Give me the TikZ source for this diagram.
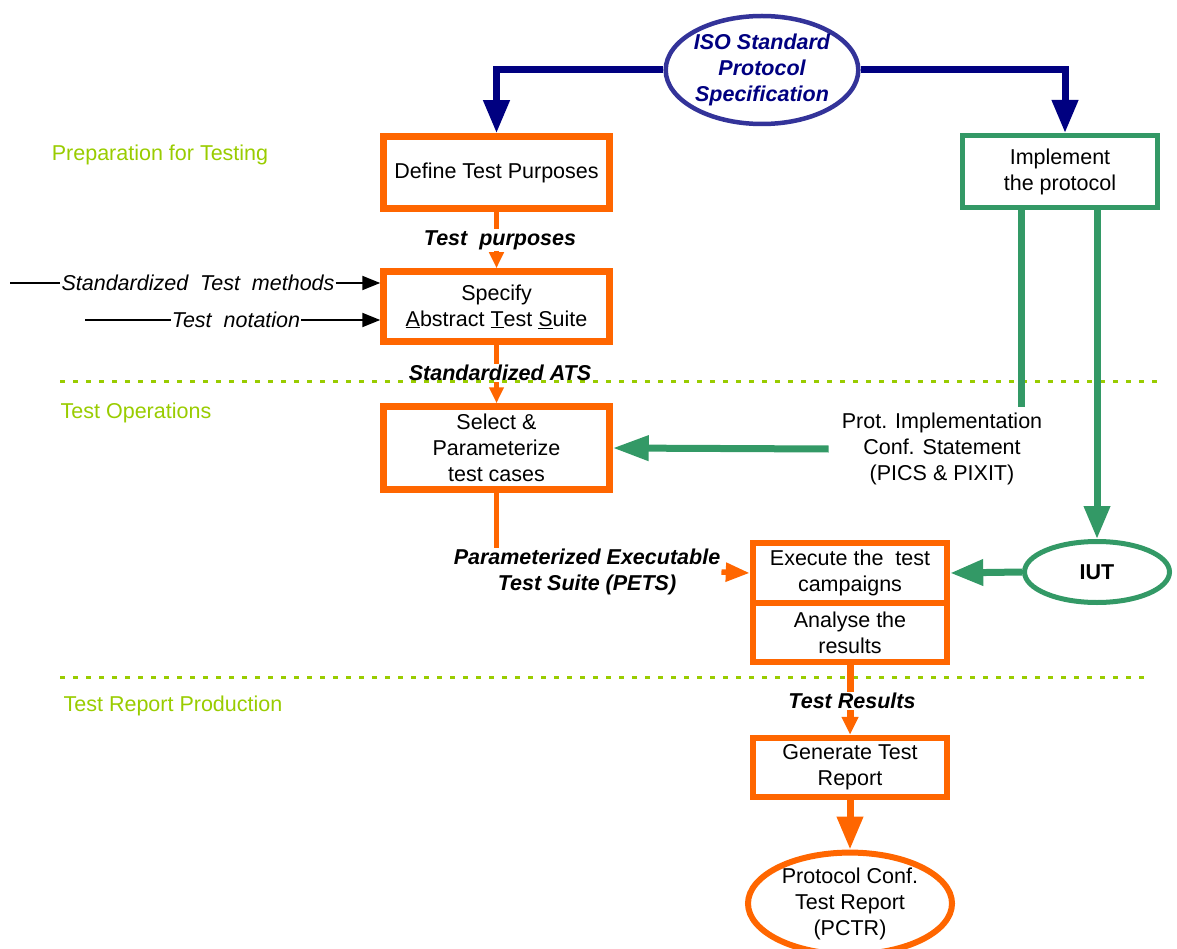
\documentclass[tikz,border=0pt]{standalone}
\usepackage{fontspec}
\setmainfont{Liberation Sans}
\usetikzlibrary{arrows.meta,shapes.geometric,calc}
\definecolor{orng}{HTML}{FF6600}
\definecolor{grn}{HTML}{339966}
\definecolor{navy}{HTML}{000080}
\definecolor{isoblue}{HTML}{333399}
\definecolor{lime}{HTML}{99CC00}
\begin{document}
\begin{tikzpicture}[x=1pt,y=-1pt,
  every node/.style={font=\fontsize{21.5}{26}\selectfont, align=center, inner sep=1pt},
  obox/.style={draw=orng, line width=6.5pt, inner sep=0pt},
  gbox/.style={draw=grn, line width=5pt, inner sep=0pt},
  lbl/.style={font=\fontsize{21.5}{26}\selectfont\bfseries\itshape},
  sect/.style={text=lime},
  sepline/.style={lime, line width=3pt, dash pattern=on 5pt off 8pt},
  oline/.style={orng, line width=5.5pt},
  othick/.style={orng, line width=7pt},
  gline/.style={grn, line width=7pt},
  bline/.style={navy, line width=7pt},
  smalltip/.style={-{Triangle[length=16pt,width=14pt]}},
  bigtip/.style={-{Triangle[length=33pt,width=25pt]}},
  ktip/.style={black, line width=2pt, -{Triangle[length=18pt,width=14pt]}}]
\useasboundingbox (0,0) rectangle (1177,949);

% phase separators
\draw[sepline] (60,381) -- (1160,381);
\draw[sepline] (60,677) -- (1145,677);

% phase titles
\node[sect] (s1) at (160,155) {Preparation for Testing};
\node[sect] (s2) at (136,413) {Test Operations};
\node[sect] (s3) at (173,706) {Test Report Production};

% specification
\node[ellipse, draw=isoblue, line width=4.5pt, minimum width=186pt, minimum height=108pt,
      inner sep=0pt, text=navy, font=\fontsize{21.5}{26}\selectfont\bfseries\itshape]
      (iso) at (762,70) {ISO Standard\\Protocol\\Specification};

% process boxes
\node[obox, minimum width=226pt, minimum height=72pt] (def) at (496.5,172.5) {Define Test Purposes};
\node[obox, minimum width=226pt, minimum height=70pt] (spec) at (496.5,306.5)
      {Specify\\\underline{A}bstract \underline{T}est \underline{S}uite};
\node[obox, minimum width=226pt, minimum height=83pt] (sel) at (496.5,448)
      {Select \&\\Parameterize\\test cases};
\node[gbox, minimum width=195pt, minimum height=72pt] (impl) at (1060,171.5) {Implement\\the protocol};
\node[obox, minimum width=194pt, minimum height=60pt] (exec) at (850,573) {Execute the\ \ test\\campaigns};
\node[obox, minimum width=194pt, minimum height=59pt] (anal) at (850,632.5) {Analyse the\\results};
\node[obox, minimum width=194pt, minimum height=59pt] (gen) at (850,767.5) {Generate Test\\Report};

% outcomes
\node[ellipse, draw=grn, line width=5pt, minimum width=145pt, minimum height=61pt, inner sep=0pt,
      font=\fontsize{21.5}{26}\selectfont\bfseries] (iut) at (1097,572) {IUT};
\node[ellipse, draw=orng, line width=6pt, minimum width=204pt, minimum height=82pt, inner sep=0pt]
      (pctr) at (850,903.5) {Protocol Conf.\\Test Report\\(PCTR)};

% flow labels
\node[lbl] (tpl) at (500,240) {Test\ \ purposes};
\node[lbl] (atsl) at (500,373) {Standardized ATS};
\node[lbl] (petsl) at (587,572) {Parameterized Executable\\Test Suite (PETS)};
\node[lbl] (trl) at (852,701) {Test Results};
\node (picsl) at (942,449) {Prot. Implementation\\Conf. Statement\\(PICS \& PIXIT)};

% external inputs
\node[font=\fontsize{21.5}{26}\selectfont\itshape] (stm) at (198,283) {Standardized\ \ Test\ \ methods};
\node[font=\fontsize{21.5}{26}\selectfont\itshape] (tn) at (236,320) {Test\ \ notation};
\coordinate (stmA) at (10,283);
\coordinate (tnA) at (85,320);
\draw[black, line width=2pt] (stmA) -- (stm.west);
\draw[ktip] (stm.east) -- (spec.west |- stm);
\draw[black, line width=2pt] (tnA) -- (tn.west);
\draw[ktip] (tn.east) -- (spec.west |- tn);

% specification split
\coordinate (implin) at (1065,133);
\draw[bline, bigtip] (iso.west) -| (def.north);
\draw[bline, bigtip] (iso.east) -| (implin);

% orange flow
\draw[oline] (def.south) -- (def.south |- tpl.north);
\draw[oline, smalltip] (def.south |- tpl.south) -- (spec.north);
\draw[oline] (spec.south) -- (spec.south |- atsl.north);
\draw[oline, smalltip] (spec.south |- atsl.south) -- (sel.north);
\draw[oline] (sel.south) -- (sel.south |- petsl.north);
\draw[oline, -{Triangle[length=24pt,width=18pt]}] (petsl.east) -- (exec.west);
\draw[othick] (anal.south) -- (anal.south |- trl.north);
\draw[othick, -{Triangle[length=18pt,width=16pt]}] (anal.south |- trl.south) -- (gen.north);
\draw[othick, bigtip] (gen.south) -- (pctr.north);

% green flow
\coordinate (picsup) at (1021,407);
\draw[gline] (impl.south -| picsup) -- (picsup);
\draw[gline, -{Triangle[length=36pt,width=24pt]}] ([xshift=-12pt]picsl.west) -- (sel.east);
\draw[gline, bigtip] (impl.south -| iut.north) -- (iut.north);
\draw[gline, bigtip] (iut.west) -- (exec.east);
\end{tikzpicture}
\end{document}
